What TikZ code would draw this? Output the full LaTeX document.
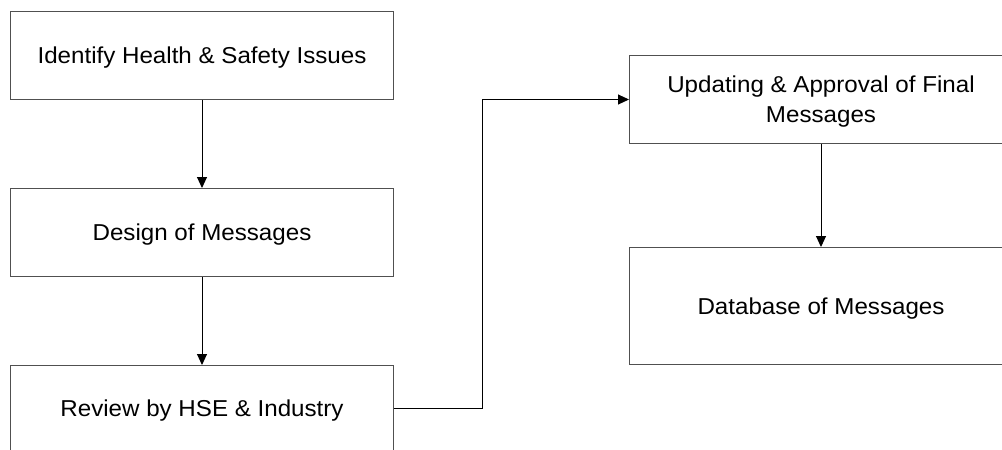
\documentclass[tikz,border=0pt]{standalone}
\usepackage{fontspec}
\setmainfont{Liberation Sans}[FakeStretch=1.05]
\usetikzlibrary{arrows.meta}
\definecolor{boxgray}{RGB}{80,80,80}
\begin{document}
\begin{tikzpicture}[x=1pt,y=-1pt,
  box/.style={draw=boxgray, line width=1pt, minimum width=383pt, inner sep=0pt,
    text depth=0pt, align=center, font=\fontsize{23}{30}\selectfont, anchor=north west},
  conn/.style={draw=black, line width=1pt, -{Triangle[length=11pt,width=10pt]}}]
\clip (0,0) rectangle (1002,450);
\fill[white] (0,0) rectangle (1002,450);
\node[box, minimum height=88pt] (a) at (10,11) {Identify Health \& Safety Issues};
\node[box, minimum height=88pt] (b) at (10,188) {Design of Messages};
\node[box, minimum height=86pt] (c) at (10,365) {Review by HSE \& Industry};
\node[box, minimum height=88pt] (d) at (629,55) {Updating \& Approval of Final\\Messages};
\node[box, minimum height=117pt] (e) at (629,247) {Database of Messages};
\draw[conn] (a.south) -- (b.north);
\draw[conn] (b.south) -- (c.north);
\draw[conn] (c.east) -- ++(88,0) |- (d.west);
\draw[conn] (d.south) -- (e.north);
\end{tikzpicture}
\end{document}
